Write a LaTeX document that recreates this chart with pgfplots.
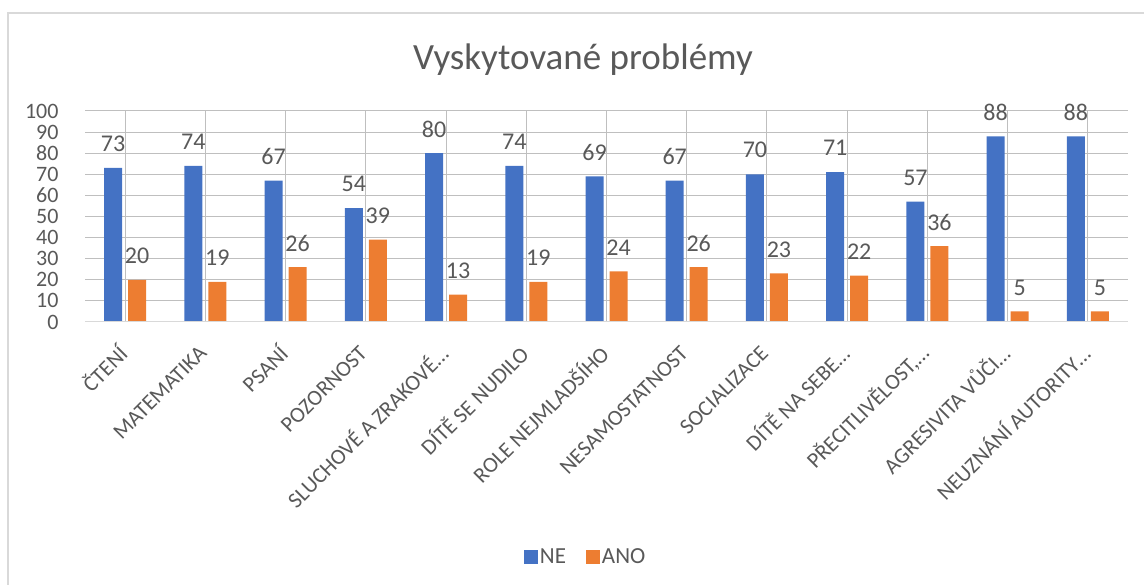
\documentclass[border=0pt]{standalone}
\usepackage{pgfplots}
\pgfplotsset{compat=1.18}
\usepackage{fontspec}
\setmainfont{Carlito}
\definecolor{txt}{RGB}{89,89,89}
\definecolor{grid}{RGB}{217,217,217}
\definecolor{cblue}{RGB}{68,114,196}
\definecolor{corange}{RGB}{237,125,49}
\begin{document}
\begin{tikzpicture}[x=1pt,y=1pt]
\useasboundingbox (0,0) rectangle (1144,585);
\draw[grid,line width=1.5pt] (8,0) -- (8,572) -- (1144,572);
\node[txt,font=\fontsize{37}{40}\selectfont] at (583,525) {Vyskytované problémy};
\begin{axis}[
  at={(85pt,263pt)}, anchor=south west,
  scale only axis, width=1043pt, height=211pt,
  ymin=0, ymax=100, ytick={0,10,...,100},
  xmin=-0.5, xmax=12.5,
  xtick={0,...,12},
  xticklabels={ČTENÍ, MATEMATIKA, PSANÍ, POZORNOST, SLUCHOVÉ A ZRAKOVÉ…, DÍTĚ SE NUDILO, ROLE NEJMLADŠÍHO, NESAMOSTATNOST, SOCIALIZACE, DÍTĚ NA SEBE…, {PŘECITLIVĚLOST,…}, AGRESIVITA VŮČI…, NEUZNÁNÍ AUTORITY…},
  axis line style={draw=none},
  axis x line*=bottom,
  ymajorgrids, grid style={grid, line width=1pt},
  major tick length=0pt,
  tick style={draw=none},
  yticklabel style={txt, font=\fontsize{22}{24}\selectfont, xshift=-23pt, anchor=east},
  xticklabel style={txt, font=\fontsize{22}{24}\selectfont, xshift=0pt, yshift=-25pt, rotate=45, anchor=east},
  /pgf/number format/assume math mode=true,
  ybar, bar width=18pt,
  nodes near coords,
  every node near coord/.append style={txt, font=\fontsize{24}{26}\selectfont, anchor=center, yshift=24pt},
  legend style={at={(0.48,-1.115)}, anchor=center, draw=none, legend columns=-1, font=\fontsize{23}{25}\selectfont, text=txt, /tikz/every even column/.append style={column sep=18pt}},
  legend image code/.code={\fill[#1] (0pt,-7pt) rectangle (14pt,7pt);},
]
\addplot[fill=cblue, draw=none, bar shift=-12pt] coordinates {(0,73) (1,74) (2,67) (3,54) (4,80) (5,74) (6,69) (7,67) (8,70) (9,71) (10,57) (11,88) (12,88)};
\addplot[fill=corange, draw=none, bar shift=12pt] coordinates {(0,20) (1,19) (2,26) (3,39) (4,13) (5,19) (6,24) (7,26) (8,23) (9,22) (10,36) (11,5) (12,5)};
\draw[grid, line width=1.5pt] (rel axis cs:0,0) -- (rel axis cs:1,0);
\legend{NE, ANO}
\end{axis}
\end{tikzpicture}
\end{document}
